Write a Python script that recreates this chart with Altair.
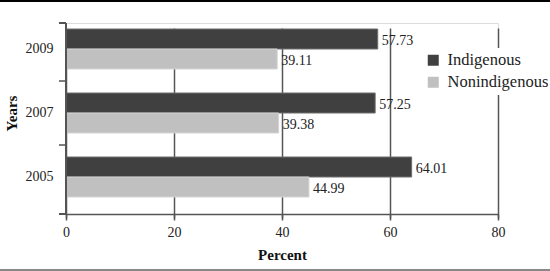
import altair as alt
import pandas as pd

years = ["2009", "2007", "2005"]
groups = ["Indigenous", "Nonindigenous"]
indigenous = [57.73, 57.25, 64.01]
nonindigenous = [39.11, 39.38, 44.99]
x_ticks = [0, 20, 40, 60, 80]
colors = ["#404040", "#c0c0c0"]
edge_colors = ["#6e6e6e", "#d4d4d4"]

rows = []
for yr, a, b in zip(years, indigenous, nonindigenous):
    rows.append({"Year": yr, "Group": groups[0], "Value": a})
    rows.append({"Year": yr, "Group": groups[1], "Value": b})
df = pd.DataFrame(rows)
year_df = pd.DataFrame({"Year": years})

FONT = "Liberation Serif"
W, H = 432, 191
GRID = "#555555"

y_scale = alt.Scale(range=[-6, 186], paddingInner=0.375, paddingOuter=0.1875)

x_enc = alt.X(
    "Value:Q",
    scale=alt.Scale(domain=[0, 80], nice=False),
    axis=alt.Axis(
        values=x_ticks, title="Percent", grid=True, gridColor=GRID, gridWidth=1.5,
        domainColor=GRID, domainWidth=1.5, tickColor=GRID, tickWidth=1.5,
        tickSize=4, labelPadding=7, labelFont=FONT, labelFontSize=14, labelColor="#222222",
        labelFlush=False,
        titleFont=FONT, titleFontSize=15, titleFontWeight="bold", titlePadding=8,
        titleColor="#111111",
    ),
)
y_enc = alt.Y(
    "Year:N",
    sort=years,
    scale=y_scale,
    axis=alt.Axis(
        title="Years", domain=False, ticks=False, labelPadding=13,
        labelFont=FONT, labelFontSize=14, labelColor="#222222",
        titleFont=FONT, titleFontSize=15, titleFontWeight="bold", titlePadding=6,
        titleColor="#111111",
    ),
)
yoff = alt.YOffset("Group:N", sort=groups)

base = alt.Chart(df)

bars = base.mark_bar(strokeWidth=1).encode(
    x=x_enc,
    y=y_enc,
    yOffset=yoff,
    color=alt.Color(
        "Group:N",
        sort=groups,
        scale=alt.Scale(domain=groups, range=colors),
        legend=alt.Legend(
            title=None, orient="none", legendX=355, legendY=25,
            symbolType="square", symbolSize=121, symbolStrokeWidth=0, symbolOpacity=1,
            labelFont=FONT, labelFontSize=16.5, labelColor="#222222", labelOffset=6,
            rowPadding=5, fillColor="white", padding=4,
        ),
    ),
    stroke=alt.Stroke(
        "Group:N", sort=groups, scale=alt.Scale(domain=groups, range=edge_colors), legend=None
    ),
)

labels = base.mark_text(
    align="left", baseline="middle", dx=4, dy=2, font=FONT, fontSize=14, color="#222222"
).encode(
    x="Value:Q",
    y=alt.Y("Year:N", sort=years),
    yOffset=yoff,
    text=alt.Text("Value:Q", format=".2f"),
)

# y-axis ticks between year groups
yticks = alt.Chart(year_df).transform_filter(
    alt.datum.Year != years[0]
).mark_rule(color=GRID, strokeWidth=1.5, yOffset=-12).encode(
    y=alt.Y("Year:N", sort=years, bandPosition=0),
    x=alt.value(-7), x2=alt.value(0),
)
ytop = base.mark_rule(color=GRID, strokeWidth=1.5).encode(
    x=alt.value(-7), x2=alt.value(0), y=alt.value(0)
)
yline = base.mark_rule(color=GRID, strokeWidth=1.5).encode(
    x=alt.value(0), y=alt.value(0), y2=alt.value(H)
)
xext = base.mark_rule(color=GRID, strokeWidth=1.5).encode(
    x=alt.value(-7), x2=alt.value(0), y=alt.value(H)
)
top_border = base.mark_rule(color="#000000", strokeWidth=2).encode(
    x=alt.value(-66), x2=alt.value(484), y=alt.value(-22)
)
bottom_border = base.mark_rule(color="#888888", strokeWidth=2).encode(
    x=alt.value(-66), x2=alt.value(484), y=alt.value(247)
)

chart = alt.layer(
    bars, labels, yticks, ytop, yline, xext, top_border, bottom_border
).resolve_scale(y="shared").properties(
    width=W, height=H,
    autosize=alt.AutoSizeParams(type="none"),
    padding={"left": 66, "top": 23, "right": 52, "bottom": 57},
).configure_view(stroke=None).configure(background="white")

chart.save("out.html", embed_options={"renderer": "svg", "actions": False})
